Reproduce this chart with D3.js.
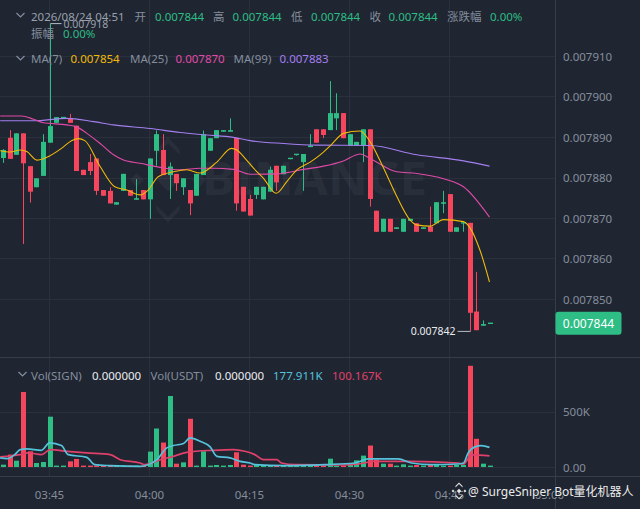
<!DOCTYPE html>
<html>
<head>
<meta charset="utf-8">
<script src="https://cdn.jsdelivr.net/npm/d3@7"></script>
<style>
  html, body { margin: 0; padding: 0; background: #1f2531; }
  svg { display: block; font-family: "Noto Sans", "Noto Sans CJK SC", sans-serif; }
</style>
</head>
<body>
<svg id="chart" width="640" height="509"></svg>
<script>
// 1-minute candles, 2026/08/24 03:38 .. 04:51
const startTime = new Date(2026, 7, 24, 3, 38);

const open = [
  0.0078848,0.0078898,0.0078856,0.0078909,0.0078828,0.0078776,0.0078804,0.0078886,0.0078935,0.0078947,
  0.0078946,0.0078928,0.0078819,0.0078838,0.0078847,0.0078769,0.0078767,0.0078733,0.0078767,0.0078769,
  0.0078745,0.0078769,0.0078746,0.0078866,0.0078868,0.0078806,0.0078809,0.0078776,0.0078769,0.0078755,
  0.0078806,0.0078866,0.0078897,0.0078913,0.0078913,0.0078898,0.0078777,0.0078747,0.0078757,0.0078746,
  0.0078765,0.0078829,0.0078808,0.0078845,0.0078854,0.0078838,0.0078875,0.0078919,0.0078919,0.0078917,
  0.0078946,0.0078959,0.0078878,0.0078878,0.0078878,0.0078919,0.0078718,0.0078666,0.0078698,0.0078673,
  0.0078666,0.0078693,0.0078687,0.0078673,0.0078679,0.0078687,0.0078735,0.0078759,0.0078666,0.0078685,
  0.0078688,0.0078469,0.0078434,0.0078440
];
const high = [
  0.0078870,0.0078917,0.0078909,0.0078909,0.0078828,0.0078798,0.0078907,0.0079180,0.0078949,0.0078949,
  0.0078957,0.0078928,0.0078819,0.0078858,0.0078847,0.0078769,0.0078776,0.0078739,0.0078809,0.0078769,
  0.0078796,0.0078769,0.0078847,0.0078916,0.0078907,0.0078837,0.0078809,0.0078798,0.0078769,0.0078809,
  0.0078916,0.0078897,0.0078917,0.0078917,0.0078946,0.0078898,0.0078777,0.0078757,0.0078777,0.0078777,
  0.0078827,0.0078829,0.0078829,0.0078847,0.0078857,0.0078858,0.0078907,0.0078919,0.0078919,0.0079038,
  0.0079008,0.0078959,0.0078907,0.0078888,0.0078919,0.0078919,0.0078718,0.0078698,0.0078698,0.0078677,
  0.0078698,0.0078698,0.0078687,0.0078677,0.0078728,0.0078739,0.0078767,0.0078759,0.0078677,0.0078688,
  0.0078688,0.0078567,0.0078447,0.0078440
];
const low = [
  0.0078836,0.0078846,0.0078856,0.0078636,0.0078738,0.0078776,0.0078804,0.0078886,0.0078935,0.0078947,
  0.0078935,0.0078816,0.0078806,0.0078806,0.0078757,0.0078755,0.0078736,0.0078733,0.0078767,0.0078755,
  0.0078745,0.0078746,0.0078698,0.0078829,0.0078806,0.0078747,0.0078767,0.0078757,0.0078707,0.0078755,
  0.0078806,0.0078866,0.0078897,0.0078913,0.0078913,0.0078718,0.0078716,0.0078706,0.0078747,0.0078746,
  0.0078765,0.0078767,0.0078808,0.0078845,0.0078854,0.0078767,0.0078875,0.0078886,0.0078897,0.0078917,
  0.0078917,0.0078897,0.0078878,0.0078878,0.0078838,0.0078728,0.0078666,0.0078666,0.0078666,0.0078673,
  0.0078666,0.0078693,0.0078666,0.0078673,0.0078666,0.0078687,0.0078712,0.0078666,0.0078666,0.0078666,
  0.0078420,0.0078423,0.0078434,0.0078440
];
const close = [
  0.0078868,0.0078846,0.0078909,0.0078835,0.0078765,0.0078798,0.0078888,0.0078927,0.0078949,0.0078948,
  0.0078935,0.0078816,0.0078806,0.0078816,0.0078767,0.0078755,0.0078736,0.0078739,0.0078809,0.0078755,
  0.0078749,0.0078746,0.0078847,0.0078907,0.0078806,0.0078827,0.0078786,0.0078798,0.0078736,0.0078809,
  0.0078907,0.0078897,0.0078917,0.0078917,0.0078917,0.0078736,0.0078716,0.0078706,0.0078777,0.0078777,
  0.0078819,0.0078788,0.0078829,0.0078847,0.0078857,0.0078858,0.0078879,0.0078886,0.0078905,0.0078959,
  0.0078959,0.0078897,0.0078907,0.0078888,0.0078919,0.0078747,0.0078666,0.0078698,0.0078666,0.0078677,
  0.0078698,0.0078698,0.0078666,0.0078677,0.0078666,0.0078739,0.0078739,0.0078666,0.0078677,0.0078688,
  0.0078466,0.0078423,0.0078438,0.0078440
];
// volume in thousands
const volume = [
  21,112,57,678,142,36,45,455,12,12,
  51,73,12,12,12,12,12,5,12,12,
  12,12,139,348,221,642,30,42,436,12,
  142,12,18,12,18,133,21,12,18,18,
  18,12,12,5,5,5,5,12,12,75,
  12,12,30,60,103,194,66,30,30,5,
  24,5,18,12,18,18,12,12,18,18,
  915,255,30,0
];

// moving averages: [candle index, value]
const ma7 = [
  [-0.4,0.0078866],[1.1,0.0078863],[2.6,0.0078868],[3.6,0.0078864],[5.1,0.0078843],[6.6,0.0078850],
  [8.8,0.0078872],[10.3,0.0078891],[11.3,0.0078896],[12.3,0.0078891],[14.6,0.0078827],[16.8,0.0078777],
  [18.6,0.0078769],[20.6,0.0078757],[21.8,0.0078769],[23.3,0.0078802],[25.6,0.0078814],[27.6,0.0078819],
  [29.6,0.0078811],[32.1,0.0078838],[34.3,0.0078872],[35.1,0.0078868],[36.3,0.0078848],[37.6,0.0078823],
  [39.1,0.0078798],[41.0,0.0078761],[42.6,0.0078790],[44.1,0.0078819],[46.1,0.0078838],[47.6,0.0078856],
  [49.1,0.0078878],[51.1,0.0078909],[53.6,0.0078915],[55.1,0.0078888],[57.0,0.0078827],[59.1,0.0078753],
  [61.1,0.0078695],[62.1,0.0078683],[64.1,0.0078680],[66.1,0.0078696],[69.1,0.0078691],[70.1,0.0078675],
  [71.6,0.0078619],[73.0,0.0078542]
];
const ma25 = [
  [-0.4,0.0078952],[2.8,0.0078952],[4.6,0.0078944],[6.1,0.0078935],[9.6,0.0078930],[11.1,0.0078925],
  [12.6,0.0078909],[14.6,0.0078884],[16.6,0.0078856],[18.1,0.0078843],[20.6,0.0078835],[23.6,0.0078825],
  [26.6,0.0078819],[29.6,0.0078823],[31.6,0.0078823],[34.6,0.0078820],[37.1,0.0078808],[41.1,0.0078809],
  [42.6,0.0078812],[45.1,0.0078820],[48.1,0.0078828],[51.1,0.0078841],[53.6,0.0078858],[55.1,0.0078847],
  [59.1,0.0078814],[62.1,0.0078810],[66.1,0.0078797],[69.1,0.0078777],[73.0,0.0078702]
];
const ma99 = [
  [-0.4,0.0078940],[4.6,0.0078940],[9.6,0.0078946],[13.6,0.0078938],[16.6,0.0078930],[22.1,0.0078921],
  [26.6,0.0078911],[30.6,0.0078905],[34.6,0.0078899],[37.1,0.0078891],[42.1,0.0078884],[47.1,0.0078880],
  [55.1,0.0078879],[62.1,0.0078856],[69.1,0.0078841],[73.0,0.0078828]
];
const volMaShort = [
  [-0.4,82],[0.6,75],[1.8,112],[2.6,157],[3.6,164],[5.8,151],[7.0,218],[8.8,194],[9.8,112],[12.6,87],
  [13.8,21],[16.1,12],[20.6,5],[21.8,21],[23.1,66],[24.6,173],[25.6,194],[27.1,212],[28.1,264],[29.6,233],
  [31.1,182],[32.1,96],[34.1,82],[35.6,51],[37.1,36],[37.8,21],[42.3,12],[48.3,21],[52.8,36],[54.8,73],
  [59.3,73],[61.3,36],[64.3,21],[68.3,27],[69.1,36],[69.8,127],[70.8,182],[71.8,194],[73.0,177.911]
];
const volMaLong = [
  [-0.4,91],[2.6,112],[3.8,127],[5.8,112],[7.1,157],[9.6,142],[12.6,127],[16.1,112],[17.6,66],[20.6,36],
  [21.3,21],[23.6,66],[25.6,96],[27.6,133],[31.6,151],[34.6,157],[36.3,142],[37.8,112],[39.1,66],[41.1,66],
  [41.8,36],[43.8,21],[51.3,18],[54.3,36],[55.3,51],[61.3,51],[68.3,36],[69.1,27],[70.3,109],[73.0,100.167]
];
const priceTicks = [0.00785, 0.00786, 0.00787, 0.00788, 0.00789, 0.00790, 0.00791];
const volTicks = [0, 500];

const W = 640, H = 509;
const axisX = 555.5, paneBottom = 357.5, axisTop = 476.5;
const GREEN = "#2ebd85", RED = "#f6465d", GREY = "#848e9c", GRID = "#2a303c";

const x = d3.scaleTime()
  .domain([new Date(2026, 7, 24, 3, 45), new Date(2026, 7, 24, 4, 45)])
  .range([49.5, 449.5]);
const xi = i => x(new Date(+startTime + i * 60000));
const y = d3.scaleLinear().domain([0.00785, 0.00791]).range([299, 56]);
const yv = d3.scaleLinear().domain([0, 500]).range([467, 411.7]);

const candles = open.map((o, i) => ({
  i, o, h: high[i], l: low[i], c: close[i], v: volume[i], up: close[i] >= o
}));

const svg = d3.select("#chart");
svg.append("rect").attr("width", W).attr("height", H).attr("fill", "#1f2531");

const defs = svg.append("defs");
defs.append("clipPath").attr("id", "pricePane")
  .append("rect").attr("x", 0).attr("y", 0).attr("width", axisX).attr("height", paneBottom);
defs.append("clipPath").attr("id", "volPane")
  .append("rect").attr("x", 0).attr("y", paneBottom).attr("width", axisX).attr("height", axisTop - paneBottom);

// grid
const timeTicks = d3.timeMinute.every(15).range(new Date(2026, 7, 24, 3, 30), new Date(2026, 7, 24, 5, 1))
  .filter(t => x(t) > 10 && x(t) < 600);
const grid = svg.append("g").attr("stroke", GRID).attr("stroke-width", 1);
timeTicks.filter(t => x(t) < 540).forEach(t => {
  const gx = Math.floor(x(t)) + 0.5;
  grid.append("line").attr("x1", gx).attr("x2", gx).attr("y1", 0).attr("y2", axisTop);
});
priceTicks.forEach(p => {
  const gy = Math.round(y(p)) + 0.5;
  grid.append("line").attr("x1", 0).attr("x2", axisX).attr("y1", gy).attr("y2", gy);
});
volTicks.forEach(v => {
  const gy = Math.round(yv(v)) + 0.5;
  grid.append("line").attr("x1", 0).attr("x2", axisX).attr("y1", gy).attr("y2", gy);
});

// faint exchange watermark
const wm = svg.append("g").attr("opacity", 0.045).attr("fill", "#ffffff");
const logo = wm.append("g").attr("transform", "translate(168,180) rotate(45)");
logo.append("rect").attr("x", -8).attr("y", -8).attr("width", 16).attr("height", 16);
[[-22, 22], [22, -22]].forEach(([a, b]) =>
  logo.append("rect").attr("x", a - 5).attr("y", b - 5).attr("width", 10).attr("height", 10));
logo.append("path").attr("d", "M-30,-14 L-30,-30 L-14,-30 L-10,-26 L-26,-26 L-26,-10 Z");
logo.append("path").attr("d", "M30,14 L30,30 L14,30 L10,26 L26,26 L26,10 Z");
wm.append("text").attr("x", 202).attr("y", 195)
  .attr("font-size", 46).attr("font-weight", 700)
  .attr("textLength", 225).attr("lengthAdjust", "spacingAndGlyphs")
  .text("BINANCE");

// candles
const cg = svg.append("g").attr("clip-path", "url(#pricePane)");
cg.selectAll("line.wick").data(candles).join("line")
  .attr("class", "wick")
  .attr("x1", d => Math.round(xi(d.i)) + 0.5).attr("x2", d => Math.round(xi(d.i)) + 0.5)
  .attr("y1", d => y(d.h)).attr("y2", d => y(d.l))
  .attr("stroke", d => d.up ? GREEN : RED).attr("stroke-width", 1);
cg.selectAll("rect.body").data(candles).join("rect")
  .attr("class", "body")
  .attr("x", d => Math.round(xi(d.i)) - 2)
  .attr("width", 5)
  .attr("y", d => Math.min(y(d.o), y(d.c)) - (Math.abs(y(d.o) - y(d.c)) < 1.4 ? 0.7 : 0))
  .attr("height", d => Math.max(1.4, Math.abs(y(d.o) - y(d.c))))
  .attr("fill", d => d.up ? GREEN : RED);

// price moving averages
const maLine = d3.line().x(d => xi(d[0])).y(d => y(d[1])).curve(d3.curveMonotoneX);
[[ma99, "#a47ff0"], [ma25, "#e04aa8"], [ma7, "#f0b90b"]].forEach(([s, col]) =>
  cg.append("path").attr("d", maLine(s)).attr("fill", "none")
    .attr("stroke", col).attr("stroke-width", 1.1));

// volume
const vg = svg.append("g").attr("clip-path", "url(#volPane)");
vg.selectAll("rect").data(candles).join("rect")
  .attr("x", d => Math.round(xi(d.i)) - 2)
  .attr("width", 5)
  .attr("y", d => Math.min(yv(d.v), yv(0) - 1.4))
  .attr("height", d => Math.max(1.4, yv(0) - yv(d.v)))
  .attr("fill", d => d.up ? GREEN : RED);
const volLine = d3.line().x(d => xi(d[0])).y(d => yv(d[1])).curve(d3.curveMonotoneX);
[[volMaLong, "#e0416b"], [volMaShort, "#55c3dc"]].forEach(([s, col]) =>
  vg.append("path").attr("d", volLine(s)).attr("fill", "none")
    .attr("stroke", col).attr("stroke-width", 1.7));

// separators
const sep = svg.append("g").attr("stroke", "#363c48").attr("stroke-width", 1);
sep.append("line").attr("x1", axisX).attr("x2", axisX).attr("y1", 0).attr("y2", H);
sep.append("line").attr("x1", 0).attr("x2", W).attr("y1", paneBottom).attr("y2", paneBottom);
sep.append("line").attr("x1", 0).attr("x2", W).attr("y1", axisTop).attr("y2", axisTop);

// axes labels
const fmtP = d3.format(".6f");
const axisG = svg.append("g").attr("font-size", 11.5).attr("fill", GREY);
priceTicks.forEach(p => axisG.append("text").attr("x", 563).attr("y", y(p))
  .attr("dominant-baseline", "central").text(fmtP(p)));
axisG.append("text").attr("x", 563).attr("y", yv(500)).attr("dominant-baseline", "central").text("500K");
axisG.append("text").attr("x", 563).attr("y", yv(0)).attr("dominant-baseline", "central").text("0.00");
timeTicks.forEach(t => axisG.append("text").attr("x", x(t)).attr("y", 494)
  .attr("text-anchor", "middle").attr("dominant-baseline", "central")
  .text(d3.timeFormat("%H:%M")(t)));

// last price box
const last = candles[candles.length - 1];
svg.append("rect").attr("x", 555.5).attr("y", y(last.c) - 11.5).attr("width", 66).attr("height", 23)
  .attr("rx", 3).attr("fill", GREEN);
svg.append("text").attr("x", 588.5).attr("y", y(last.c) + 0.5).attr("text-anchor", "middle")
  .attr("dominant-baseline", "central").attr("font-size", 12).attr("fill", "#ffffff")
  .text(fmtP(last.c));

// high / low markers
const hi = candles.reduce((a, b) => b.h > a.h ? b : a);
const lo = candles.reduce((a, b) => b.l < a.l ? b : a);
const hx = Math.round(xi(hi.i)) + 0.5, lx = Math.round(xi(lo.i)) + 0.5;
svg.append("line").attr("x1", hx).attr("x2", hx + 11).attr("y1", y(hi.h)).attr("y2", y(hi.h))
  .attr("stroke", "#b7bdc6").attr("stroke-width", 1);
svg.append("text").attr("x", hx + 13).attr("y", y(hi.h)).attr("dominant-baseline", "central")
  .attr("font-size", 10.5).attr("fill", "#9aa1ac").text(fmtP(hi.h));
svg.append("line").attr("x1", lx - 13).attr("x2", lx).attr("y1", y(lo.l)).attr("y2", y(lo.l))
  .attr("stroke", "#b7bdc6").attr("stroke-width", 1);
svg.append("text").attr("x", lx - 15).attr("y", y(lo.l)).attr("text-anchor", "end")
  .attr("dominant-baseline", "central").attr("font-size", 10.5).attr("fill", "#eaecef").text(fmtP(lo.l));

// header legends
const chevron = (x0, y0) => svg.append("path")
  .attr("d", `M${x0},${y0} l4,4 l4,-4`).attr("fill", "none")
  .attr("stroke", GREY).attr("stroke-width", 1.2);
const label = (tx, ty, s, col) => svg.append("text").attr("x", tx).attr("y", ty)
  .attr("dominant-baseline", "central").attr("font-size", 11.5).attr("fill", col).text(s);

const pct = d3.format(".2%");
chevron(16.5, 13);
label(31, 16, d3.timeFormat("%Y/%m/%d %H:%M")(new Date(+startTime + last.i * 60000)), "#9aa1ac");
label(134.5, 16, "开", GREY);   label(155, 16, fmtP(last.o), GREEN);
label(213, 16, "高", GREY);     label(232.5, 16, fmtP(last.h), GREEN);
label(291, 16, "低", GREY);     label(311, 16, fmtP(last.l), GREEN);
label(369.5, 16, "收", GREY);   label(388.5, 16, fmtP(last.c), GREEN);
label(447, 16, "涨跌幅", GREY); label(490, 16, pct((last.c - last.o) / last.o), GREEN);
label(31, 33, "振幅", GREY);    label(63, 33, pct((last.h - last.l) / last.l), GREEN);

chevron(16.5, 56);
label(31, 58, "MA(7)", GREY);   label(70.5, 58, fmtP(ma7[ma7.length - 1][1]), "#f0b90b");
label(130, 58, "MA(25)", GREY); label(175.5, 58, fmtP(ma25[ma25.length - 1][1]), "#e04aa8");
label(233.5, 58, "MA(99)", GREY); label(279.5, 58, fmtP(ma99[ma99.length - 1][1]), "#a47ff0");

chevron(18.5, 372);
const fmtV = v => d3.format(".3f")(v) + "K";
label(31, 375, "Vol(SIGN)", GREY);  label(92, 375, d3.format(".6f")(last.v), "#eaecef");
label(150.5, 375, "Vol(USDT)", GREY); label(215, 375, d3.format(".6f")(last.v * last.c), "#eaecef");
label(273, 375, fmtV(volMaShort[volMaShort.length - 1][1]), "#55c3dc");
label(332, 375, fmtV(volMaLong[volMaLong.length - 1][1]), "#e0416b");

// bottom-right source watermark
const mark = svg.append("g").attr("transform", "translate(459,491) rotate(45)").attr("fill", "#e8e8e8");
mark.append("rect").attr("x", -1.6).attr("y", -1.6).attr("width", 3.2).attr("height", 3.2);
mark.append("path").attr("d", "M-6,-1 L-6,-6 L-1,-6 L0,-5 L-5,-5 L-5,0 Z");
mark.append("path").attr("d", "M6,1 L6,6 L1,6 L0,5 L5,5 L5,0 Z");
mark.append("rect").attr("x", -5.2).attr("y", 3.2).attr("width", 2).attr("height", 2);
mark.append("rect").attr("x", 3.2).attr("y", -5.2).attr("width", 2).attr("height", 2);
svg.append("text").attr("x", 468).attr("y", 491).attr("dominant-baseline", "central")
  .attr("font-size", 12).attr("fill", "#ececec")
  .attr("stroke", "#1f2531").attr("stroke-width", 2).attr("paint-order", "stroke")
  .text("@ SurgeSniper Bot量化机器人");
</script>
</body>
</html>
